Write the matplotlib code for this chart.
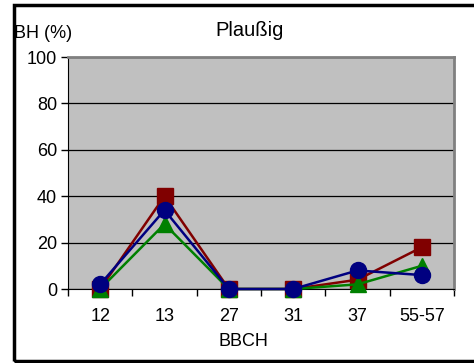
import numpy as np
import matplotlib.pyplot as plt
from matplotlib.patches import Rectangle

plt.rcParams['font.family'] = ['Liberation Sans', 'DejaVu Sans']

stages = ['12', '13', '27', '31', '37', '55-57']
red_vals = [0, 40, 0, 0, 4, 18]
green_vals = [0, 28, 0, 0, 2, 10]
blue_vals = [2, 34, 0, 0, 8, 6]

W, H = 474, 363
fig = plt.figure(figsize=(W / 100, H / 100), dpi=100)

# outer chart frame (right edge runs off the image)
fig.patches.append(Rectangle((13.5 / W, 2.5 / H), 470 / W, (359 - 3) / H,
                             transform=fig.transFigure, fill=False,
                             edgecolor='black', linewidth=2.5))

ax = fig.add_axes([68 / W, 1 - 289 / H, (454 - 68) / W, (289 - 57) / H])
ax.set_facecolor('#c0c0c0')

x = np.arange(len(stages))
ax.plot(x, red_vals, color='#800000', marker='s', markersize=11, linewidth=1.8,
        clip_on=False, zorder=3)
ax.plot(x, green_vals, color='#008000', marker='^', markersize=12, linewidth=1.8,
        clip_on=False, zorder=4)
ax.plot(x, blue_vals, color='#000080', marker='o', markersize=11.5, linewidth=1.8,
        clip_on=False, zorder=5)

ax.set_xlim(-0.5, len(stages) - 0.5)
ax.set_ylim(0, 100)
ax.set_yticks(range(0, 101, 20))
ax.set_yticklabels([str(v) for v in range(0, 101, 20)], fontsize=13)
ax.yaxis.grid(True, color='black', linewidth=0.9)
ax.set_axisbelow(True)

# category labels centered, tick marks between categories
ax.set_xticks(x)
ax.set_xticklabels(stages, fontsize=13)
ax.tick_params(axis='x', length=0, pad=14)
ax.set_xticks(np.arange(-0.5, len(stages)), minor=True)
ax.tick_params(axis='x', which='minor', length=5, width=1, direction='out')
ax.tick_params(axis='y', length=5, width=1, direction='out', pad=3)

ax.spines['left'].set_color('black')
ax.spines['bottom'].set_color('black')
ax.spines['top'].set_color('#808080')
ax.spines['right'].set_color('#808080')
ax.spines['top'].set_linewidth(2)
ax.spines['right'].set_linewidth(2)

fig.text(250 / W, 1 - 31 / H, 'Plaußig', fontsize=14.5, ha='center', va='center')
fig.text(14 / W, 1 - 33 / H, 'BH (%)', fontsize=13, ha='left', va='center')
fig.text(243 / W, 1 - 342 / H, 'BBCH', fontsize=13, ha='center', va='center')

fig.savefig('out.png', dpi=100)
